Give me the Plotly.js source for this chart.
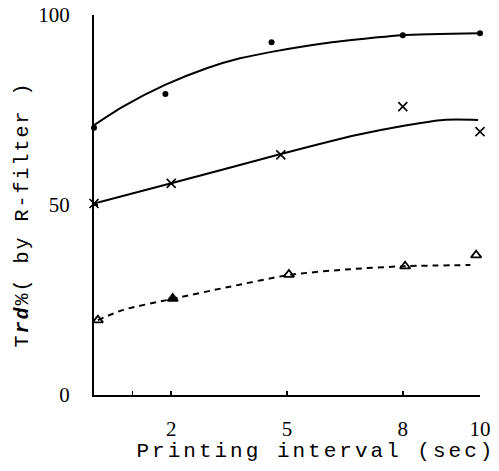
<!DOCTYPE html>
<html>
<head>
<meta charset="utf-8">
<script src="https://cdn.plot.ly/plotly-3.0.1.min.js"></script>
<style>
  html, body { margin: 0; padding: 0; background: #fff; }
  #chart { width: 499px; height: 471px; }
  g.annotation[data-index="0"] .annotation-text { letter-spacing: 3px; }
  g.annotation[data-index="1"] .annotation-text { letter-spacing: 2px; }
</style>
</head>
<body>
<div id="chart"></div>
<script>
// ---- data ----
// series 1 (dots, solid fitted curve)
const dotX = [0, 1.85, 4.6, 8, 10];
const dotY = [70.3, 79.2, 92.8, 94.7, 95.2];
const dotCurveX = [0, 0.75, 1.84, 2.92, 3.78, 4.6, 5.93, 7.23, 7.97, 10];
const dotCurveY = [71, 75.9, 81.6, 86, 88.6, 90.3, 92.5, 94, 94.7, 95.2];

// series 2 (crosses, solid fitted curve)
const crossX = [0, 2, 4.84, 8, 10];
const crossY = [50.4, 55.7, 63.2, 75.9, 69.3];
const crossCurveX = [0, 2, 4.84, 6.8, 8.1, 9.05, 9.95];
const crossCurveY = [50.4, 55.7, 63.4, 68.4, 71, 72.4, 72.4];

// series 3 (triangles, dashed curve)
const triX = [0.1, 2.04, 5.05, 8.06, 9.9];
const triY = [19.7, 25.4, 31.7, 33.9, 36.8];
const triCurveX = [0.1, 0.76, 2.04, 3.52, 5.07, 6.63, 8.06, 9.75];
const triCurveY = [19.7, 22.4, 25.3, 28.5, 31.6, 33.1, 33.9, 34.2];

// axis ticks and titles
const xTickVals = [1, 2, 5, 8, 10];
const xTickText = ['', '2', '5', '8', '10'];
const yTickVals = [0, 50, 100];
const yTickText = ['0', '50', '100'];
const xTitle = 'Printing interval (sec)';
const yTitle = 'T<b><i>rd</i></b>%( by R-filter )';

const black = '#000';
const traces = [
  { x: dotCurveX, y: dotCurveY, mode: 'lines', line: { color: black, width: 2, shape: 'spline', smoothing: 0.8 }, cliponaxis: false, hoverinfo: 'skip' },
  { x: dotX, y: dotY, mode: 'markers', marker: { symbol: 'circle', size: 6, color: black }, cliponaxis: false },
  { x: crossCurveX, y: crossCurveY, mode: 'lines', line: { color: black, width: 2, shape: 'spline', smoothing: 0.8 }, cliponaxis: false, hoverinfo: 'skip' },
  { x: crossX, y: crossY, mode: 'markers', marker: { symbol: 'x-thin', size: 9, color: black, line: { color: black, width: 1.6 } }, cliponaxis: false },
  { x: triCurveX, y: triCurveY, mode: 'lines', line: { color: black, width: 2, dash: '6px,5px', shape: 'spline', smoothing: 0.8 }, cliponaxis: false, hoverinfo: 'skip' },
  { x: triX, y: triY, mode: 'markers', marker: { symbol: ['triangle-up-open', 'triangle-up', 'triangle-up-open', 'triangle-up-open', 'triangle-up-open'], size: 9, color: black, line: { color: black, width: 1.8 } }, cliponaxis: false }
];

const layout = {
  width: 499, height: 471,
  margin: { l: 94, r: 19, t: 15, b: 76 },
  paper_bgcolor: '#fff', plot_bgcolor: '#fff',
  showlegend: false,
  font: { family: 'Liberation Serif', color: black, size: 21 },
  xaxis: {
    range: [0, 10], showgrid: false, zeroline: false,
    showline: true, linecolor: black, linewidth: 2,
    ticks: 'inside', ticklen: 4, tickwidth: 1.5, tickcolor: black,
    tickmode: 'array', tickvals: xTickVals, ticktext: xTickText,
    ticklabelstandoff: 14,
    tickfont: { family: 'Liberation Serif', size: 21, color: black }
  },
  yaxis: {
    range: [0, 100], showgrid: false, zeroline: false,
    showline: true, linecolor: black, linewidth: 2,
    ticks: 'inside', ticklen: 4, tickwidth: 1.5, tickcolor: black,
    tickmode: 'array', tickvals: yTickVals, ticktext: yTickText,
    ticklabelstandoff: 18,
    tickfont: { family: 'Liberation Serif', size: 21, color: black }
  },
  annotations: [{
    text: xTitle, xref: 'paper', yref: 'paper',
    x: 0.574, y: -0.15, xanchor: 'center', yanchor: 'middle', showarrow: false,
    font: { family: 'Liberation Mono', size: 21, color: black }
  }, {
    text: yTitle, xref: 'paper', yref: 'paper', textangle: -90,
    x: -0.185, y: 0.474, xanchor: 'center', yanchor: 'middle', showarrow: false,
    font: { family: 'Liberation Mono', size: 20, color: black }
  }]
};

Plotly.newPlot('chart', traces, layout, { displayModeBar: false, staticPlot: true });
</script>
</body>
</html>
